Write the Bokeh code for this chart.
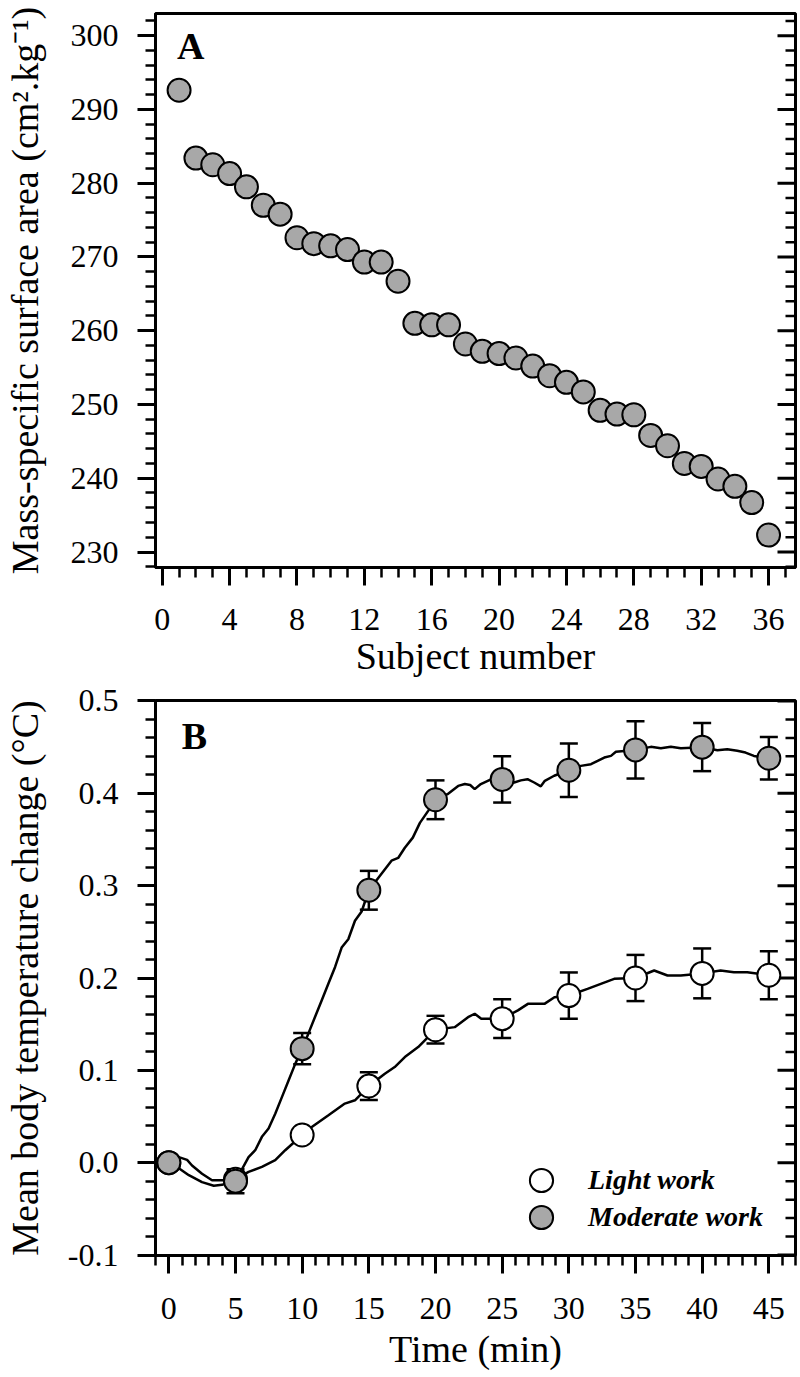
from bokeh.plotting import figure
from bokeh.models import (SingleIntervalTicker, Range1d, Whisker,
                          ColumnDataSource, Label, Legend, LegendItem,
                          PrintfTickFormatter, TeeHead)
from bokeh.layouts import column
from bokeh.embed import file_html
from bokeh.resources import INLINE

FONT = "Liberation Serif"
GRAY = "#a8a8a8"

# ---------------- Panel A data ----------------
subject = list(range(1, 37))
surface_area = [292.6, 283.4, 282.5, 281.3, 279.5, 277.0, 275.8, 272.6, 271.8,
                271.5, 271.0, 269.3, 269.3, 266.7, 261.0, 260.8, 260.8, 258.2,
                257.2, 256.9, 256.3, 255.2, 253.9, 253.0, 251.7, 249.2, 248.7,
                248.6, 245.8, 244.4, 242.0, 241.6, 239.9, 238.9, 236.7, 232.3]

# ---------------- Panel B data ----------------
time_points = [0, 5, 10, 15, 20, 25, 30, 35, 40, 45]
light_mean = [0.0, -0.018, 0.030, 0.083, 0.144, 0.156, 0.181, 0.200, 0.205, 0.203]
light_err = [0.0, 0.0, 0.0, 0.015, 0.015, 0.021, 0.025, 0.025, 0.027, 0.026]
moderate_mean = [0.0, -0.020, 0.1235, 0.295, 0.393, 0.415, 0.425, 0.447, 0.450, 0.438]
moderate_err = [0.0, 0.013, 0.017, 0.021, 0.021, 0.025, 0.029, 0.031, 0.026, 0.023]

moderate_trace_t = [0, 0.75, 1.37, 1.74, 2.49, 3.24, 3.99, 5, 5.98, 6.48, 6.98, 7.48,
                    7.98, 8.48, 8.98, 9.48, 10, 10.47, 10.97, 11.47, 11.97, 12.47,
                    12.96, 13.46, 13.96, 14.46, 15, 15.95, 16.7, 17.2, 17.7, 18.3,
                    18.83, 19.45, 20, 20.9, 21.7, 22.2, 22.6, 22.94, 23.4, 24.2, 25,
                    25.9, 26.4, 26.9, 27.4, 27.9, 28.2, 28.9, 30, 30.9, 31.66, 32.16,
                    32.66, 33.16, 33.53, 35, 36.15, 36.9, 37.65, 38.4, 40, 41.14,
                    41.88, 42.63, 43.25, 43.88, 45]
moderate_trace_v = [0.0, 0.006, 0.003, -0.003, -0.012, -0.019, -0.019, -0.020, 0.006,
                    0.0135, 0.028, 0.037, 0.053, 0.071, 0.089, 0.107, 0.1235, 0.140,
                    0.158, 0.176, 0.194, 0.212, 0.233, 0.242, 0.262, 0.272, 0.295,
                    0.313, 0.327, 0.330, 0.341, 0.352, 0.368, 0.381, 0.393, 0.399,
                    0.408, 0.410, 0.409, 0.4045, 0.410, 0.4153, 0.415, 0.4117, 0.414,
                    0.4153, 0.4117, 0.4076, 0.4135, 0.419, 0.425, 0.4297, 0.4315,
                    0.435, 0.4387, 0.4405, 0.445, 0.447, 0.4503, 0.4488, 0.4503,
                    0.4488, 0.450, 0.4467, 0.4478, 0.446, 0.4441, 0.4405, 0.438]

light_trace_t = [0, 0.75, 1.5, 2.49, 3.37, 3.99, 5, 5.98, 6.98, 7.98, 8.73, 10, 10.72,
                 11.97, 13.2, 13.96, 15, 16.2, 16.94, 17.7, 18.7, 20, 21.44, 22.44,
                 22.94, 23.43, 25, 26.18, 26.93, 28.17, 28.92, 30, 31.4, 32.4, 33.4,
                 35, 36.4, 37.4, 38.4, 40, 41.38, 42.38, 43.38, 45]
light_trace_v = [0.0, -0.006, -0.0135, -0.021, -0.025, -0.024, -0.018, -0.0099,
                 -0.0045, 0.0027, 0.0135, 0.030, 0.0387, 0.0514, 0.064, 0.0676, 0.083,
                 0.0964, 0.1036, 0.1144, 0.1252, 0.144, 0.1468, 0.1576, 0.1613,
                 0.1559, 0.156, 0.1649, 0.172, 0.172, 0.1792, 0.181, 0.1883, 0.1937,
                 0.1991, 0.200, 0.2081, 0.2027, 0.2027, 0.205, 0.2081, 0.2063, 0.2063,
                 0.203]

FRAME_W = 640


def style_axes(p, xticker, yticker, y_major_step, n_minor):
    p.grid.visible = False
    p.outline_line_color = "black"
    p.outline_line_width = 3
    p.background_fill_color = "white"
    p.border_fill_color = "white"
    for ax in p.xaxis + p.yaxis:
        ax.axis_line_width = 3
        ax.major_tick_line_width = 3
        ax.minor_tick_line_width = 2.5
        ax.major_tick_out = 18
        ax.major_tick_in = 0
        ax.minor_tick_out = 10
        ax.minor_tick_in = 0
        ax.major_label_text_font = FONT
        ax.major_label_text_font_size = "32px"
        ax.major_label_text_color = "black"
        ax.axis_label_text_font = FONT
        ax.axis_label_text_font_size = "38px"
        ax.axis_label_text_font_style = "normal"
        ax.axis_label_text_color = "black"
    p.xaxis.ticker = xticker
    p.yaxis.ticker = yticker

    # inward tick marks along the right frame edge (same spacing as left axis)
    x0, x1 = p.x_range.start, p.x_range.end
    y0, y1 = p.y_range.start, p.y_range.end
    per_px = (x1 - x0) / FRAME_W
    minor_step = y_major_step / n_minor
    k0 = int(y0 // minor_step) + 1
    vals = []
    k = k0
    while k * minor_step <= y1 + 1e-9:
        vals.append(k)
        k += 1
    major_y = [k * minor_step for k in vals if k % n_minor == 0]
    minor_y = [k * minor_step for k in vals if k % n_minor != 0]
    p.segment(x0=[x1] * len(major_y), y0=major_y, x1=[x1 - 18 * per_px] * len(major_y),
              y1=major_y, line_color="black", line_width=3)
    p.segment(x0=[x1] * len(minor_y), y0=minor_y, x1=[x1 - 10 * per_px] * len(minor_y),
              y1=minor_y, line_color="black", line_width=2.5)


# ---------------- Panel A ----------------
pA = figure(frame_width=FRAME_W, frame_height=554,
            x_range=Range1d(-0.4, 37.6), y_range=Range1d(227.9, 303),
            output_backend="svg", toolbar_location=None,
            min_border_left=149, min_border_top=13, min_border_right=3,
            min_border_bottom=113)
style_axes(pA, SingleIntervalTicker(interval=4, num_minor_ticks=4),
           SingleIntervalTicker(interval=10, num_minor_ticks=5), 10, 5)
pA.xaxis.axis_label = "Subject number"
pA.yaxis.axis_label = "Mass-specific surface area (cm\u00b2.kg\u207b\u00b9)"
pA.xaxis.major_label_standoff = 23
pA.xaxis.axis_label_standoff = 2
pA.yaxis.major_label_standoff = 19
pA.yaxis.axis_label_standoff = 22

srcA = ColumnDataSource(dict(x=subject, y=surface_area))
pA.scatter("x", "y", source=srcA, size=23, fill_color=GRAY,
           line_color="black", line_width=2)
pA.add_layout(Label(x=0.87, y=298.6, text="A", text_font=FONT,
                    text_font_size="38px", text_font_style="bold",
                    text_baseline="alphabetic", text_color="black"))

# ---------------- Panel B ----------------
pB = figure(frame_width=FRAME_W, frame_height=555,
            x_range=Range1d(-1, 47), y_range=Range1d(-0.1005, 0.5005),
            output_backend="svg", toolbar_location=None,
            min_border_left=149, min_border_top=20, min_border_right=3,
            min_border_bottom=110)
style_axes(pB, SingleIntervalTicker(interval=5, num_minor_ticks=5),
           SingleIntervalTicker(interval=0.1, num_minor_ticks=5), 0.1, 5)
pB.xaxis.axis_label = "Time (min)"
pB.yaxis.axis_label = "Mean body temperature change (\u00b0C)"
pB.yaxis.formatter = PrintfTickFormatter(format="%.1f")
pB.xaxis.major_label_standoff = 24
pB.xaxis.axis_label_standoff = 6
pB.yaxis.major_label_standoff = 19
pB.yaxis.axis_label_standoff = 19

pB.line(light_trace_t, light_trace_v, line_color="black", line_width=2.5)
pB.line(moderate_trace_t, moderate_trace_v, line_color="black", line_width=2.5)

for mean, err in ((light_mean, light_err), (moderate_mean, moderate_err)):
    wsrc = ColumnDataSource(dict(t=time_points,
                                 upper=[m + e for m, e in zip(mean, err)],
                                 lower=[m - e for m, e in zip(mean, err)]))
    pB.add_layout(Whisker(source=wsrc, base="t", upper="upper", lower="lower",
                          line_color="black", line_width=2.5,
                          upper_head=TeeHead(size=18, line_width=2.5, line_color="black"),
                          lower_head=TeeHead(size=18, line_width=2.5, line_color="black")))

light_r = pB.scatter(time_points, light_mean, size=23, fill_color="white",
                     line_color="black", line_width=2)
mod_r = pB.scatter(time_points, moderate_mean, size=23, fill_color=GRAY,
                   line_color="black", line_width=2)

pB.add_layout(Label(x=0.97, y=0.462, text="B", text_font=FONT,
                    text_font_size="38px", text_font_style="bold",
                    text_baseline="alphabetic", text_color="black"))

legend_style = dict(glyph_width=58, glyph_height=58, spacing=0, padding=0, margin=0,
                    border_line_color=None, background_fill_alpha=0,
                    label_standoff=18, label_text_font=FONT,
                    label_text_font_style="bold italic",
                    label_text_font_size="28px", label_text_color="black")
legend_light = Legend(items=[LegendItem(label="Light work", renderers=[light_r])],
                      location=(357, 46), **legend_style)
legend_mod = Legend(items=[LegendItem(label="Moderate work", renderers=[mod_r])],
                    location=(357, 9), **legend_style)
pB.add_layout(legend_light)
pB.add_layout(legend_mod)

layout = column(pA, pB, spacing=0)
open("out.html", "w").write(file_html(layout, INLINE))
